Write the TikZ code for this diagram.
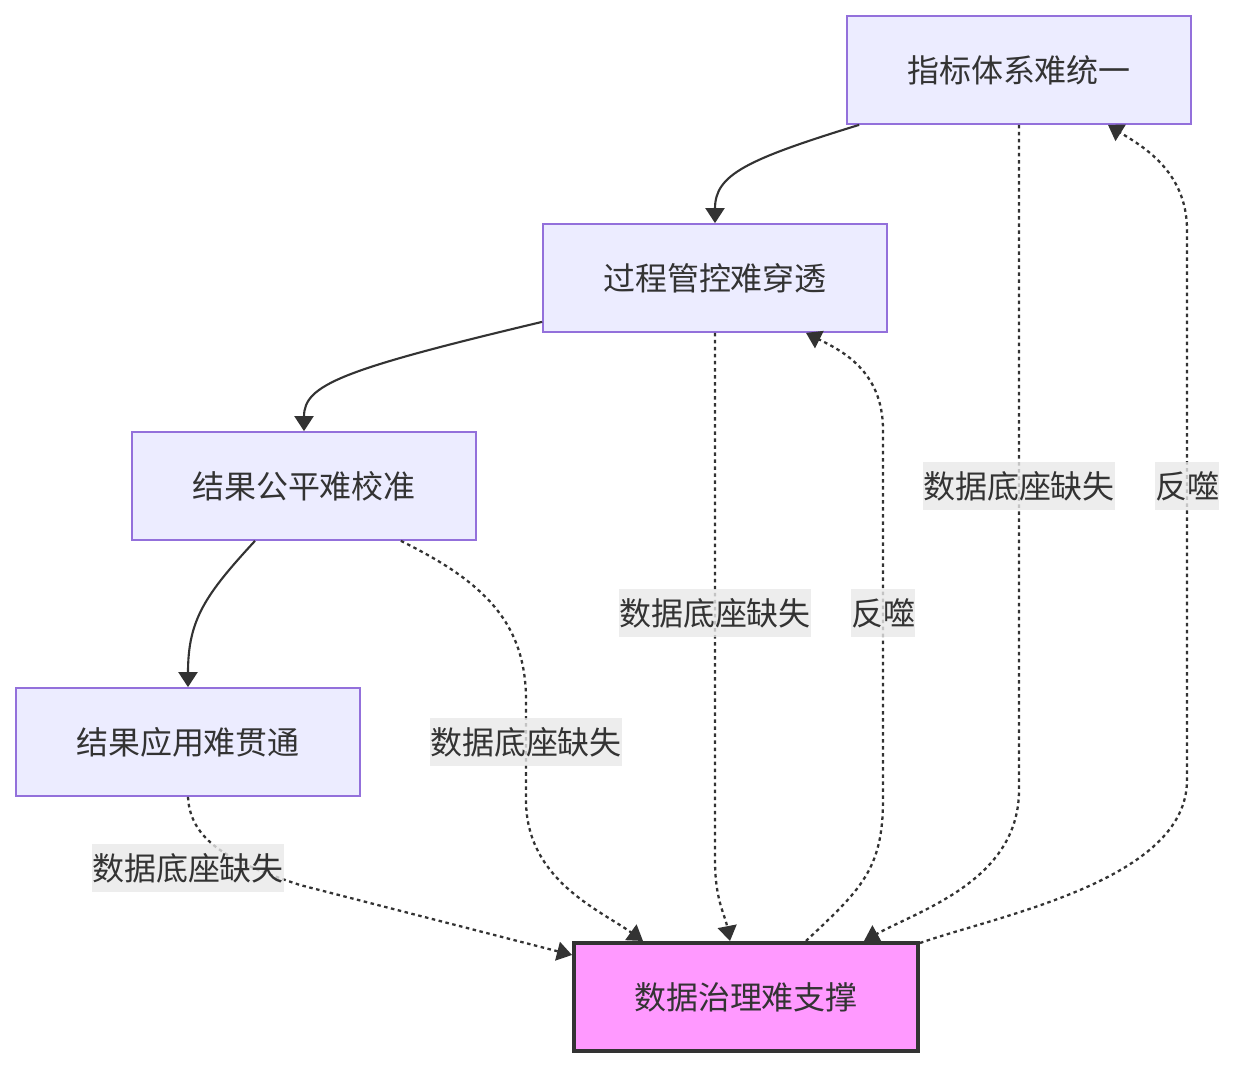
\documentclass[tikz,border=0pt]{standalone}
\usepackage{fontspec}
\setmainfont{Noto Sans CJK SC}
\usepackage{xcolor}
\usepackage{tikz}
\usetikzlibrary{arrows.meta}
\definecolor{MMFill}{HTML}{ECECFF}
\definecolor{MMLine}{HTML}{9370DB}
\definecolor{MMPink}{HTML}{FF99FF}
\definecolor{MMInk}{HTML}{333333}
\definecolor{MMLabel}{HTML}{E8E8E8}

\begin{document}
\begin{tikzpicture}[x=0.02cm,y=-0.02cm,
  box/.style={draw=MMLine,line width=1pt,fill=MMFill,minimum width=6.88cm,minimum height=2.16cm,inner sep=0pt,text=MMInk,font=\fontsize{18.2pt}{27pt}\selectfont},
  hub/.style={box,draw=MMInk,line width=2.3pt,fill=MMPink},
  lbl/.style={fill=MMLabel,fill opacity=0.8,text opacity=1,inner sep=0pt,minimum height=0.96cm,text=MMInk,font=\fontsize{18.2pt}{27pt}\selectfont},
  flow/.style={draw=MMInk,line width=1.2pt,-{Triangle[length=0.3cm,width=0.38cm]}},
  weak/.style={flow,line width=1.3pt,dash pattern=on 2pt off 2pt}]
\path[use as bounding box] (0,0) rectangle (1235,1068);
\node[box] (zb) at (1019,70) {指标体系难统一};
\node[box] (gc) at (715,278) {过程管控难穿透};
\node[box] (jg) at (304,486) {结果公平难校准};
\node[box] (yy) at (188,742) {结果应用难贯通};
\node[hub] (sj) at (746,997) {数据治理难支撑};
\draw[flow] ([xshift=0.26cm]zb.south west) .. controls (745,160) and (715,175) .. (gc.north);
\draw[flow] ([yshift=0.22cm]gc.south west) .. controls (340,370) and (304,385) .. (jg.north);
\draw[flow] ([xshift=-0.98cm]jg.south) .. controls (205,595) and (188,620) .. (yy.north);
\draw[weak] (yy.south) .. controls (190,845) and (240,865) .. (300,885)
  -- ([yshift=-0.28cm]sj.north west);
\draw[weak] ([xshift=-1.52cm]jg.south east) .. controls (480,580) and (526,620) .. (526,700)
  -- (526,800) .. controls (526,880) and (600,910) .. ([xshift=1.42cm]sj.north west);
\draw[weak] (gc.south) -- (715,860) .. controls (715,900) and (725,915) .. ([xshift=-0.32cm]sj.north);
\draw[weak] ([xshift=1.2cm]sj.north) .. controls (860,890) and (883,870) .. (883,800)
  -- (883,430) .. controls (883,370) and (840,350) .. ([xshift=1.82cm]gc.south);
\draw[weak] (zb.south) -- (1019,790) .. controls (1019,880) and (920,910) .. ([xshift=-1.12cm]sj.north east);
\draw[weak] ([yshift=-0.04cm]sj.north east) .. controls (1000,915) and (1187,880) .. (1187,780)
  -- (1187,230) .. controls (1187,170) and (1140,145) .. ([xshift=1.78cm]zb.south);
\node[lbl] (l1) at (188,868) {数据底座缺失};
\node[lbl] (l2) at (526,742) {数据底座缺失};
\node[lbl] (l3) at (715,613) {数据底座缺失};
\node[lbl] (l4) at (883,613) {反噬};
\node[lbl] (l5) at (1019,486) {数据底座缺失};
\node[lbl] (l6) at (1187,486) {反噬};
\end{tikzpicture}
\end{document}
